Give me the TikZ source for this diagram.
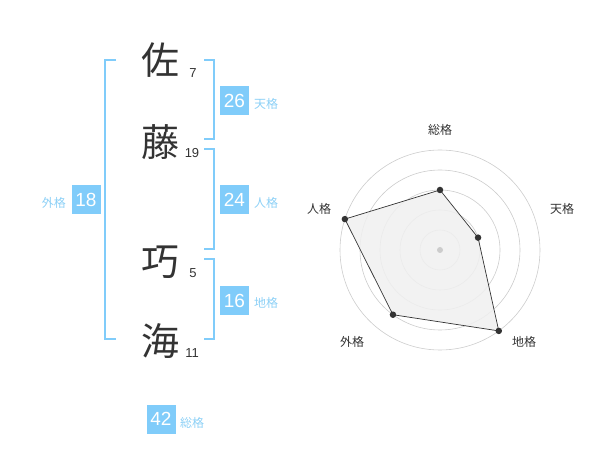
\documentclass[tikz,border=0pt]{standalone}
\usepackage{fontspec}
\setmainfont{Liberation Sans}
\newfontfamily\cjk{Noto Sans CJK JP}
\definecolor{kblue}{RGB}{128,204,250}
\definecolor{klabel}{RGB}{140,208,246}
\definecolor{kdark}{RGB}{51,51,51}
\definecolor{kgrid}{RGB}{204,204,204}
\definecolor{kfill}{RGB}{240,240,240}
\tikzset{
  kanji/.style={text=kdark, font=\cjk\fontsize{38}{40}\selectfont, inner sep=0pt},
  stroke/.style={text=kdark, font=\fontsize{13}{15}\selectfont, inner sep=0pt},
  valbox/.style={fill=kblue, text=white, minimum width=29pt, minimum height=29pt, inner sep=0pt, font=\fontsize{19}{21}\selectfont},
  vallabel/.style={text=klabel, font=\cjk\fontsize{12}{14}\selectfont, inner sep=0pt},
  bracket/.style={draw=kblue, line width=1.6pt},
  radlabel/.style={text=kdark, font=\cjk\fontsize{12}{14}\selectfont, inner sep=0pt},
  grid/.style={draw=kgrid, line width=0.6pt},
  dot/.style={circle, fill=kdark, minimum size=6.5pt, inner sep=0pt},
}
\begin{document}
\begin{tikzpicture}[x=1pt,y=-1pt]
\useasboundingbox (0,0) rectangle (600,470);
% name characters
\node[kanji] (c1) at (160,60) {佐};
\node[kanji] (c2) at (160,142) {藤};
\node[kanji] (c3) at (160,262) {巧};
\node[kanji] (c4) at (160,341) {海};
\node[stroke] (n1) at (193,73) {7};
\node[stroke] (n2) at (192,153) {19};
\node[stroke] (n3) at (193,273) {5};
\node[stroke] (n4) at (192,353) {11};
% brackets
\draw[bracket] (116,60) -- (105,60) -- (105,339) -- (116,339);
\draw[bracket] (204,60) -- (214,60) -- (214,139) -- (204,139);
\draw[bracket] (204,149) -- (214,149) -- (214,249) -- (204,249);
\draw[bracket] (204,259) -- (214,259) -- (214,339) -- (204,339);
% values
\node[valbox] (ten) at (234.5,100.5) {26};
\node[vallabel, anchor=west] (tenl) at (254,104) {天格};
\node[valbox] (jin) at (234.5,200) {24};
\node[vallabel, anchor=west] (jinl) at (254,203) {人格};
\node[valbox] (chi) at (234.5,300.5) {16};
\node[vallabel, anchor=west] (chil) at (254,303) {地格};
\node[valbox] (gai) at (86,200) {18};
\node[vallabel, anchor=east] (gail) at (66,203) {外格};
\node[valbox] (sou) at (161,419) {42};
\node[vallabel, anchor=west] (soul) at (180,423) {総格};
% radar chart
\begin{scope}[shift={(440,250)}]
  \foreach \r in {20,40,60,80,100} \draw[grid] (0,0) circle (\r);
  \coordinate (ps) at (-90:60);
  \coordinate (pt) at (-18:40);
  \coordinate (pc) at (54:100);
  \coordinate (pg) at (126:80);
  \coordinate (pj) at (198:100);
  \draw[fill=kfill, fill opacity=0.85, draw=kdark, line width=0.7pt] (ps) -- (pt) -- (pc) -- (pg) -- (pj) -- cycle;
  \node[dot] (ds) at (ps) {};
  \node[dot] (dt) at (pt) {};
  \node[dot] (dc) at (pc) {};
  \node[dot] (dg) at (pg) {};
  \node[dot] (dj) at (pj) {};
  \node[circle, fill=kgrid, minimum size=6pt, inner sep=0pt] (ctr) at (0,0) {};
\end{scope}
\node[radlabel] (rs) at (440,130) {総格};
\node[radlabel] (rt) at (562,209) {天格};
\node[radlabel] (rc) at (524,342) {地格};
\node[radlabel] (rg) at (352,342) {外格};
\node[radlabel] (rj) at (319,209) {人格};
\end{tikzpicture}
\end{document}
